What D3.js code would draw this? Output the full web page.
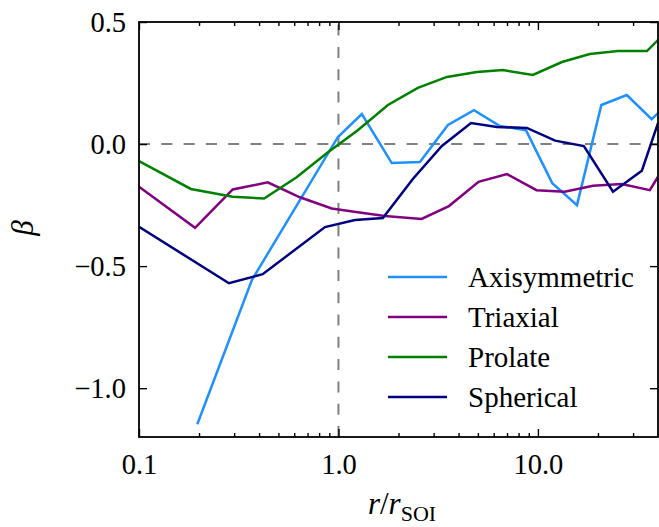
<!DOCTYPE html>
<html>
<head>
<meta charset="utf-8">
<script src="https://cdn.jsdelivr.net/npm/d3@7"></script>
<style>
  html, body { margin: 0; padding: 0; background: #fff; }
  svg { display: block; }
  text { font-family: "Liberation Serif", "Times New Roman", serif; fill: #000; }
</style>
</head>
<body>
<svg id="chart" width="659" height="527"></svg>
<script>
// Anisotropy profiles beta(r) for four model families
const rAxi = [0.196, 0.368, 0.994, 1.31, 1.85, 2.56, 3.54, 4.78, 6.45, 8.71, 11.8, 15.7, 20.8, 27.9, 37.2, 40];
const betaAxi = [-1.148, -0.557, 0.029, 0.123, -0.078, -0.074, 0.078, 0.139, 0.074, 0.057, -0.160, -0.250, 0.160, 0.201, 0.102, 0.127];

const rTri = [0.1, 0.191, 0.295, 0.442, 0.641, 0.925, 1.25, 1.71, 2.61, 3.58, 5.04, 7.00, 9.84, 13.6, 18.9, 26.3, 36.4, 40];
const betaTri = [-0.175, -0.343, -0.186, -0.157, -0.218, -0.264, -0.279, -0.295, -0.307, -0.254, -0.155, -0.123, -0.189, -0.195, -0.171, -0.164, -0.189, -0.134];

const rPro = [0.1, 0.182, 0.295, 0.424, 0.617, 0.873, 1.25, 1.77, 2.50, 3.50, 4.94, 6.68, 9.44, 13.2, 18.2, 25.2, 35.2, 40];
const betaPro = [-0.070, -0.184, -0.216, -0.223, -0.136, -0.038, 0.057, 0.160, 0.230, 0.275, 0.295, 0.303, 0.283, 0.336, 0.369, 0.381, 0.381, 0.426];

const rSph = [0.1, 0.2825, 0.417, 0.856, 1.21, 1.67, 2.36, 3.30, 4.62, 6.23, 8.80, 12.2, 17.0, 23.8, 33.2, 40];
const betaSph = [-0.339, -0.570, -0.533, -0.340, -0.311, -0.303, -0.143, -0.008, 0.086, 0.070, 0.066, 0.014, -0.008, -0.195, -0.109, 0.086];

const seriesNames = ["Axisymmetric", "Triaxial", "Prolate", "Spherical"];
const seriesColors = ["#1e90ff", "#800080", "#008000", "#000080"];

const xMajorTicks = [0.1, 1, 10];
const xMajorLabels = ["0.1", "1.0", "10.0"];
const xMinorTicks = [0.2, 0.3, 0.4, 0.5, 0.6, 0.7, 0.8, 0.9, 2, 3, 4, 5, 6, 7, 8, 9, 20, 30];
const yMajorTicks = [-1.0, -0.5, 0.0, 0.5];
const yMajorLabels = ["\u22121.0", "\u22120.5", "0.0", "0.5"];

(function draw() {
  const series = [
    { r: rAxi, beta: betaAxi },
    { r: rTri, beta: betaTri },
    { r: rPro, beta: betaPro },
    { r: rSph, beta: betaSph }
  ].map((s, i) => ({
    name: seriesNames[i],
    color: seriesColors[i],
    points: s.r.map((r, j) => ({ r: r, b: s.beta[j] }))
  }));

  const svg = d3.select("#chart");
  const pl = 139, pr = 658, pt = 22, pb = 437;

  const x = d3.scaleLog().domain([0.1, 40]).range([pl, pr]);
  const y = d3.scaleLinear().domain([-1.2, 0.5]).range([pb, pt]);

  svg.append("defs").append("clipPath").attr("id", "plot-clip")
    .append("rect").attr("x", pl).attr("y", pt)
    .attr("width", pr - pl).attr("height", pb - pt);

  // reference lines at beta = 0 and r = r_SOI
  const refStyle = sel => sel.attr("stroke", "#808080").attr("stroke-width", 2)
    .attr("stroke-dasharray", "11,11.3").attr("fill", "none");
  svg.append("line").call(refStyle)
    .attr("x1", x(0.1)).attr("x2", x(40)).attr("y1", y(0)).attr("y2", y(0));
  svg.append("line").call(refStyle)
    .attr("x1", x(1)).attr("x2", x(1)).attr("y1", y(-1.2)).attr("y2", y(0.5));

  // profiles
  const line = d3.line().x(d => x(d.r)).y(d => y(d.b));
  const lines = svg.append("g").attr("clip-path", "url(#plot-clip)");
  series.forEach(s => {
    lines.append("path").datum(s.points)
      .attr("d", line)
      .attr("fill", "none")
      .attr("stroke", s.color)
      .attr("stroke-width", 2.5)
      .attr("stroke-linejoin", "miter");
  });

  // axes: ticks point inward on all four sides
  const fontSize = 28.5;
  function styleAxis(g) {
    g.select(".domain").remove();
    g.selectAll(".tick line").attr("stroke", "#000").attr("stroke-width", 1.4);
    g.selectAll(".tick text").attr("font-family", "Liberation Serif, serif")
      .attr("font-size", fontSize).attr("fill", "#000");
  }

  svg.append("g").attr("transform", `translate(0,${pb})`)
    .call(d3.axisBottom(x).tickValues(xMajorTicks)
      .tickFormat((d, i) => xMajorLabels[i]).tickSize(-8).tickPadding(17))
    .call(styleAxis);
  svg.append("g").attr("transform", `translate(0,${pb})`)
    .call(d3.axisBottom(x).tickValues(xMinorTicks).tickFormat("").tickSize(-4))
    .call(styleAxis);
  svg.append("g").attr("transform", `translate(0,${pt})`)
    .call(d3.axisTop(x).tickValues(xMajorTicks).tickFormat("").tickSize(-8))
    .call(styleAxis);
  svg.append("g").attr("transform", `translate(0,${pt})`)
    .call(d3.axisTop(x).tickValues(xMinorTicks).tickFormat("").tickSize(-4))
    .call(styleAxis);

  svg.append("g").attr("transform", `translate(${pl},0)`)
    .call(d3.axisLeft(y).tickValues(yMajorTicks)
      .tickFormat((d, i) => yMajorLabels[i]).tickSize(-8).tickPadding(13))
    .call(styleAxis);
  svg.append("g").attr("transform", `translate(${pr},0)`)
    .call(d3.axisRight(y).tickValues(yMajorTicks).tickFormat("").tickSize(-8))
    .call(styleAxis);

  // frame
  svg.append("rect")
    .attr("x", pl).attr("y", pt)
    .attr("width", pr - pl).attr("height", pb - pt)
    .attr("fill", "none").attr("stroke", "#000").attr("stroke-width", 1.8);

  // axis titles
  svg.append("text")
    .attr("transform", "translate(33,228) rotate(-90)")
    .attr("text-anchor", "middle")
    .attr("font-size", 31).attr("font-style", "italic")
    .text("\u03B2");

  const xt = svg.append("text")
    .attr("x", 402).attr("y", 514)
    .attr("text-anchor", "middle")
    .attr("font-size", 31);
  xt.append("tspan").attr("font-style", "italic").text("r");
  xt.append("tspan").text("/");
  xt.append("tspan").attr("font-style", "italic").text("r");
  xt.append("tspan").attr("font-size", 22).attr("dy", 7).text("SOI");

  // legend
  const legend = svg.append("g");
  series.forEach((s, i) => {
    const ly = 277 + i * 40;
    legend.append("line")
      .attr("x1", 388).attr("x2", 447).attr("y1", ly).attr("y2", ly)
      .attr("stroke", s.color).attr("stroke-width", 2.5);
    legend.append("text")
      .attr("x", 468).attr("y", ly + 10)
      .attr("font-size", 29)
      .text(s.name);
  });
})();
</script>
</body>
</html>
